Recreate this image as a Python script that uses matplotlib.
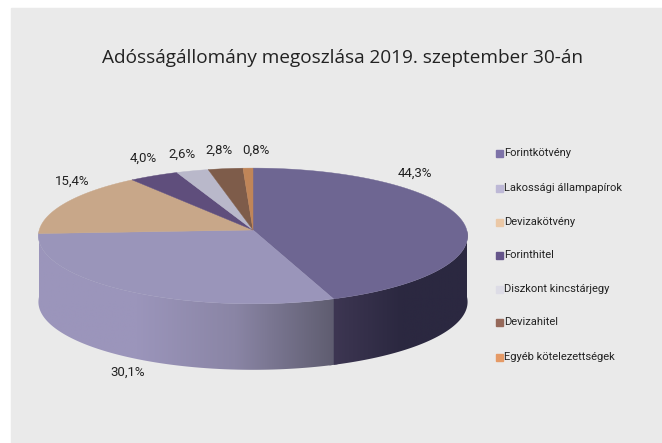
#!/usr/bin/env python3
"""Pseudo-3D pie of the Hungarian debt split, drawn on a pixel-sized axes."""
import numpy as np
import matplotlib; matplotlib.use("Agg")
import matplotlib.pyplot as plt
from matplotlib.colors import LinearSegmentedColormap
from matplotlib.patches import Polygon, Rectangle

TITLE = "Adósságállomány megoszlása 2019. szeptember 30-án"
CATEGORIES = ["Forintkötvény", "Lakossági állampapírok", "Devizakötvény", "Forinthitel",
              "Diszkont kincstárjegy", "Devizahitel", "Egyéb kötelezettségek"]
VALUES = [44.3, 30.1, 15.4, 4.0, 2.6, 2.8, 0.8]
LABELS = ["44,3%", "30,1%", "15,4%", "4,0%", "2,6%", "2,8%", "0,8%"]
TOP_COLORS = ["#6E6692", "#9A95BA", "#C8A789", "#5F4E7C", "#B9B8CA", "#7E5C4A", "#C08558"]
KEY_COLORS = ["#7D72A8", "#BDB8D6", "#EBC8A6", "#65558A", "#DDDCE6", "#96695A", "#E59A66"]
LABEL_POS = [(415, 173), (128, 372), (72, 181), (143, 158), (182, 154), (219, 150), (256, 150)]
KEY_Y = [153, 188, 222, 255, 289, 322, 357]

CX, CY, RX, RY, PERSP, DEPTH = 253, 231, 214, 67.5, 0.073, 66

plt.rcParams["font.family"] = ["Open Sans", "DejaVu Sans"]
NARROW = ["Roboto", "DejaVu Sans"]


def rim(frac0, frac1, drop=0, n=120):
    # fractions run clockwise from 12 o'clock, perspective squeezes the back
    th = 2 * np.pi * np.linspace(frac0, frac1, n)
    u, v = np.sin(th), np.cos(th)
    s = 1 / (1 + PERSP * v)
    return np.column_stack([CX + RX * u * s, CY - RY * v * s + drop])


def wall(f0, f1):
    return np.vstack([rim(f0, f1), rim(f0, f1, drop=DEPTH)[::-1]])


fig = plt.figure(figsize=(6.62, 4.43), dpi=100, facecolor="white")
ax = fig.add_axes([0, 0, 1, 1])
ax.set_xlim(0, 662); ax.set_ylim(443, 0); ax.axis("off")
ax.add_patch(Rectangle((11, 8), 651, 435, color="#EAEAEA", zorder=0))

edges = np.cumsum([0] + VALUES) / sum(VALUES)

# visible side wall: only the front half, shaded left to right
split = edges[1]
ax.add_patch(Polygon(wall(split - 0.003, split + 0.003), facecolor="#4A4860", edgecolor="none", zorder=0.5))
walls = [(split, 0.75, ["#9B95BB", "#9B95BB", "#8A85A5", "#5F5D70"]),
         (0.25, split, ["#3D3652", "#2B2840", "#2B2840"])]
for f0, f1, cols in walls:
    poly = Polygon(wall(f0, f1), closed=True, facecolor="none", edgecolor="none")
    ax.add_patch(poly)
    xy = poly.get_xy()
    cm = LinearSegmentedColormap.from_list("wall", cols)
    im = ax.imshow(np.linspace(0, 1, 256)[None, :], cmap=cm, aspect="auto",
                   extent=[xy[:, 0].min(), xy[:, 0].max(), xy[:, 1].max(), xy[:, 1].min()], zorder=1)
    im.set_clip_path(poly)
ax.set_xlim(0, 662); ax.set_ylim(443, 0)

# top face
for f0, f1, col in zip(edges[:-1], edges[1:], TOP_COLORS):
    pts = np.vstack([[CX, CY - 1], rim(f0, f1)])
    ax.add_patch(Polygon(pts, closed=True, facecolor=col, edgecolor=col, lw=0.3, zorder=2))

for (x, y), txt in zip(LABEL_POS, LABELS):
    ax.text(x, y, txt, ha="center", va="center", fontsize=9.5, family=NARROW, color="#222222")

ax.text(343, 58, TITLE, ha="center", va="center", fontsize=13.7, color="#222222")

for y, col, name in zip(KEY_Y, KEY_COLORS, CATEGORIES):
    ax.add_patch(Rectangle((496, y - 3.5), 7, 7, color=col, zorder=2))
    ax.text(504, y, name, ha="left", va="center", fontsize=8.0, family=NARROW, color="#222222")

fig.savefig("out.png", dpi=100)
